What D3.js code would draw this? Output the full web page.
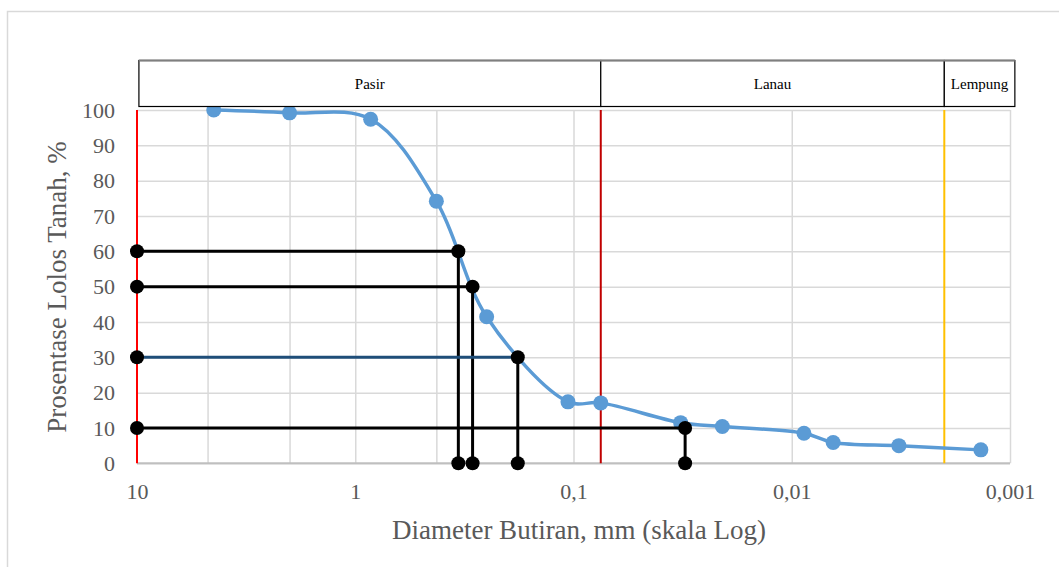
<!DOCTYPE html>
<html>
<head>
<meta charset="utf-8">
<script src="https://cdn.jsdelivr.net/npm/d3@7"></script>
<style>
  body { margin: 0; background: #fff; }
  svg { display: block; font-family: "Liberation Serif", "DejaVu Serif", serif; }
  .grid line { stroke: #d9d9d9; stroke-width: 1.5; }
  .grid path { display: none; }
  .axis path, .axis line { display: none; }
  .axis text { fill: #595959; font-size: 22px; font-family: "Liberation Serif", serif; }
</style>
</head>
<body>
<div id="chart"></div>
<script>
// grain size curve (mm vs % passing)
const sieveSize = [4.45, 2.0, 0.85, 0.425, 0.25, 0.106, 0.075, 0.0323, 0.0208, 0.00879, 0.00646, 0.00323, 0.00136];
const percentFiner = [100, 99.2, 97.4, 74.2, 41.5, 17.4, 17.1, 11.5, 10.4, 8.5, 5.9, 5.0, 3.8];

// D60, D50, D30, D10 read-off lines
const dPercent = [60, 50, 30, 10];
const dSize = [0.337, 0.290, 0.180, 0.0308];

// soil zones in the header
const zoneNames = ["Pasir", "Lanau", "Lempung"];
const zoneBounds = [9.8, 0.075, 0.002, 0.00095];
const boundarySizes = [10, 0.075, 0.002];

const xTicks = [10, 1, 0.1, 0.01, 0.001];
const xTickLabels = ["10", "1", "0,1", "0,01", "0,001"];
const xGridValues = [4.75, 2, 1, 0.425, 0.1, 0.01, 0.001];
const yTicks = [0, 10, 20, 30, 40, 50, 60, 70, 80, 90, 100];

const width = 1059, height = 567;
const plotLeft = 137, plotRight = 1010, plotTop = 110, plotBottom = 463.3;

let svg = d3.select("#chart")
  .append("svg")
  .attr("width", width)
  .attr("height", height);

// chart frame (cut off at right/bottom)
svg.append("rect")
  .attr("x", 7.5).attr("y", 11.5)
  .attr("width", 1200).attr("height", 700)
  .attr("fill", "#fff")
  .attr("stroke", "#d9d9d9")
  .attr("stroke-width", 1.5);

let xScale = d3.scaleLog().domain([10, 0.001]).range([plotLeft, plotRight]);
let yScale = d3.scaleLinear().domain([0, 100]).range([plotBottom, plotTop]);

// horizontal gridlines
svg.append("g")
  .attr("class", "grid")
  .attr("transform", "translate(" + plotLeft + ",0)")
  .call(d3.axisLeft(yScale).tickValues(yTicks).tickSize(-(plotRight - plotLeft)).tickFormat(""));

// vertical gridlines
svg.append("g")
  .attr("class", "grid")
  .attr("transform", "translate(0," + plotBottom + ")")
  .call(d3.axisBottom(xScale).tickValues(xGridValues).tickSize(-(plotBottom - plotTop)).tickFormat(""));

// bottom axis line
svg.append("line")
  .attr("x1", plotLeft).attr("x2", plotRight)
  .attr("y1", plotBottom).attr("y2", plotBottom)
  .attr("stroke", "#bfbfbf")
  .attr("stroke-width", 2);

// axes labels
svg.append("g")
  .attr("class", "axis")
  .attr("transform", "translate(" + plotLeft + ",0)")
  .call(d3.axisLeft(yScale).tickValues(yTicks).tickSize(0).tickPadding(22));

svg.append("g")
  .attr("class", "axis")
  .attr("transform", "translate(0," + plotBottom + ")")
  .call(d3.axisBottom(xScale).tickValues(xTicks).tickSize(0).tickPadding(20)
    .tickFormat((d, i) => xTickLabels[i]));

// zone boundary lines
const boundaryColors = ["#ff0000", "#c00000", "#ffc000"];
svg.selectAll(".boundary")
  .data(boundarySizes)
  .enter()
  .append("line")
  .attr("x1", d => xScale(d)).attr("x2", d => xScale(d))
  .attr("y1", plotTop).attr("y2", plotBottom)
  .attr("stroke", (d, i) => boundaryColors[i])
  .attr("stroke-width", 2);

// grading curve
let pts = sieveSize.map((d, i) => [d, percentFiner[i]]);
let line = d3.line()
  .x(d => xScale(d[0]))
  .y(d => yScale(d[1]))
  .curve(d3.curveCatmullRom.alpha(0.5));

svg.append("path")
  .datum(pts)
  .attr("d", line)
  .attr("fill", "none")
  .attr("stroke", "#5b9bd5")
  .attr("stroke-width", 3.5);

svg.selectAll(".pt")
  .data(pts)
  .enter()
  .append("circle")
  .attr("cx", d => xScale(d[0]))
  .attr("cy", d => yScale(d[1]))
  .attr("r", 7.5)
  .attr("fill", "#5b9bd5");

// D lines
const dLineColors = ["#000", "#000", "#1f4e79", "#000"];
dPercent.forEach((p, i) => {
  let g = svg.append("g");
  g.append("line")
    .attr("x1", xScale(10)).attr("x2", xScale(dSize[i]))
    .attr("y1", yScale(p)).attr("y2", yScale(p))
    .attr("stroke", dLineColors[i])
    .attr("stroke-width", 3);
  g.append("line")
    .attr("x1", xScale(dSize[i])).attr("x2", xScale(dSize[i]))
    .attr("y1", yScale(p)).attr("y2", yScale(0))
    .attr("stroke", "#000")
    .attr("stroke-width", 3);
  g.selectAll("circle")
    .data([[10, p], [dSize[i], p], [dSize[i], 0]])
    .enter()
    .append("circle")
    .attr("cx", d => xScale(d[0]))
    .attr("cy", d => yScale(d[1]))
    .attr("r", 7)
    .attr("fill", "#000");
});

// header table
const hTop = 60.5, hBottom = 106.5;
let zones = zoneNames.map((n, i) => ({ name: n, x0: zoneBounds[i], x1: zoneBounds[i + 1] }));
let hg = svg.append("g");
hg.selectAll("rect")
  .data(zones)
  .enter()
  .append("rect")
  .attr("x", d => xScale(d.x0))
  .attr("y", hTop)
  .attr("width", d => xScale(d.x1) - xScale(d.x0))
  .attr("height", hBottom - hTop)
  .attr("fill", "#fff")
  .attr("stroke", "#000")
  .attr("stroke-width", 1.2);
hg.append("line")
  .attr("x1", xScale(zoneBounds[0])).attr("x2", xScale(zoneBounds[3]))
  .attr("y1", hTop).attr("y2", hTop)
  .attr("stroke", "#7f7f7f")
  .attr("stroke-width", 2);
hg.selectAll("text")
  .data(zones)
  .enter()
  .append("text")
  .attr("x", d => (xScale(d.x0) + xScale(d.x1)) / 2)
  .attr("y", (hTop + hBottom) / 2 + 5)
  .attr("text-anchor", "middle")
  .attr("font-size", 15)
  .attr("fill", "#000")
  .text(d => d.name);

// axis titles
svg.append("text")
  .text("Prosentase Lolos Tanah, %")
  .attr("transform", "translate(66,287) rotate(-90)")
  .attr("text-anchor", "middle")
  .attr("font-size", 27)
  .attr("fill", "#595959");

svg.append("text")
  .text("Diameter Butiran, mm (skala Log)")
  .attr("x", 579)
  .attr("y", 539)
  .attr("text-anchor", "middle")
  .attr("font-size", 27)
  .attr("fill", "#595959");
</script>
</body>
</html>
